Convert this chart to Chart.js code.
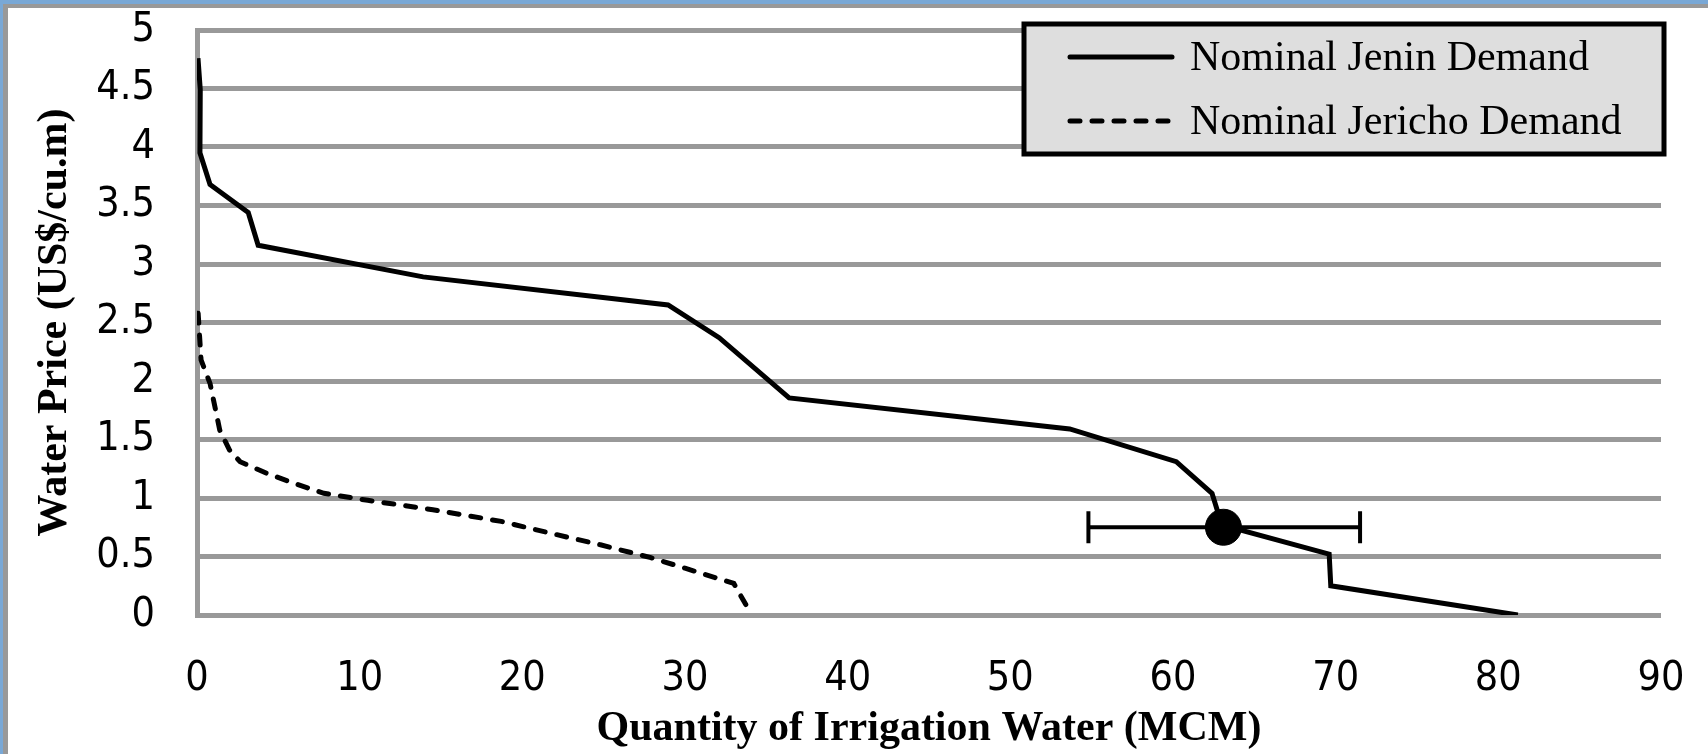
<!DOCTYPE html>
<html>
<head>
<meta charset="utf-8">
<script src="https://cdn.jsdelivr.net/npm/chart.js@4.4.1/dist/chart.umd.min.js"></script>
<style>
  html, body { margin: 0; padding: 0; background: #fff; }
  #wrap { width: 1708px; height: 754px; }
</style>
</head>
<body>
<div id="wrap"><canvas id="demand" width="1708" height="754"></canvas></div>
<script>
const seriesLabels = ['Nominal Jenin Demand', 'Nominal Jericho Demand']

// Jenin demand curve (quantity MCM, price US$/cu.m)
const jeninQty = [0.06, 0.2, 0.18, 0.8, 3.15, 3.76, 13.9, 28.96, 32.1, 36.4, 53.65, 60.2, 62.4, 63.0, 69.6, 69.7, 81.2]
const jeninPrice = [4.76, 4.49, 3.95, 3.68, 3.44, 3.16, 2.89, 2.65, 2.37, 1.855, 1.59, 1.31, 1.04, 0.77, 0.52, 0.25, 0]

// Jericho demand curve
const jerichoQty = [0.07, 0.25, 0.8, 1.4, 2.0, 2.65, 4.3, 6.3, 7.8, 10.5, 12.5, 14.5, 18.7, 21.7, 24.8, 27.9, 30, 33.0, 34.1]
const jerichoPrice = [2.58, 2.18, 1.98, 1.58, 1.41, 1.31, 1.21, 1.11, 1.04, 0.98, 0.94, 0.9, 0.8, 0.7, 0.6, 0.49, 0.4, 0.27, 0]

// observed point with range
const pointQty = 63.1
const pointPrice = 0.75
const rangeLow = 54.8
const rangeHigh = 71.5

const xTicks = [0, 10, 20, 30, 40, 50, 60, 70, 80, 90]
const yTicks = [0, 0.5, 1, 1.5, 2, 2.5, 3, 3.5, 4, 4.5, 5]

const toPoints = (xs, ys) => xs.map((x, i) => ({ x: x, y: ys[i] }))

const frame = {
  id: 'frame',
  beforeDraw(chart) {
    const { ctx, width, height } = chart
    ctx.save()
    ctx.fillStyle = '#fff'
    ctx.fillRect(0, 0, width, height)
    ctx.fillStyle = '#999'
    ctx.fillRect(3, 4, width - 3, 4)
    ctx.fillRect(3, 4, 5, height - 4)
    ctx.fillStyle = '#79a8d6'
    ctx.fillRect(0, 0, width, 4)
    ctx.fillRect(0, 0, 3, height)
    ctx.restore()
  },
}

const boxLegend = {
  id: 'boxLegend',
  afterDraw(chart) {
    const { ctx } = chart
    const items = chart.data.datasets.filter((d) => seriesLabels.includes(d.label))
    ctx.save()
    ctx.fillStyle = '#dedede'
    ctx.fillRect(1024, 24, 640, 130)
    ctx.lineWidth = 5
    ctx.strokeStyle = '#000'
    ctx.strokeRect(1024, 24, 640, 130)
    const rows = [57, 121]
    items.forEach((d, i) => {
      const y = rows[i]
      ctx.beginPath()
      ctx.lineWidth = 5
      ctx.lineCap = 'round'
      ctx.setLineDash(d.borderDash || [])
      ctx.moveTo(1070, y)
      ctx.lineTo(1172, y)
      ctx.stroke()
      ctx.setLineDash([])
      ctx.fillStyle = '#000'
      ctx.font = '42px "Liberation Serif", "Times New Roman", serif'
      ctx.textBaseline = 'middle'
      ctx.fillText(d.label, 1190, y + 2)
    })
    ctx.restore()
  },
}

const tickFont = { family: '"Liberation Sans Narrow", "DejaVu Sans Condensed", sans-serif', size: 41 }
const titleFont = { family: '"Liberation Serif", "Times New Roman", serif', size: 42, weight: 'bold', lineHeight: 1 }

new Chart(document.getElementById('demand'), {
  type: 'line',
  data: {
    datasets: [
      {
        type: 'scatter',
        label: 'point',
        data: [{ x: pointQty, y: pointPrice }],
        pointRadius: 18,
        pointBackgroundColor: '#000',
        pointBorderColor: '#000',
        order: 0,
      },
      {
        label: 'range',
        data: [{ x: rangeLow, y: pointPrice }, { x: rangeHigh, y: pointPrice }],
        borderColor: '#000',
        borderWidth: 4,
        pointStyle: 'line',
        pointRotation: 90,
        pointRadius: 16,
        pointBorderWidth: 4,
        pointBorderColor: '#000',
        order: 1,
      },
      {
        label: seriesLabels[0],
        data: toPoints(jeninQty, jeninPrice),
        borderColor: '#000',
        borderWidth: 5,
        pointRadius: 0,
        order: 2,
      },
      {
        label: seriesLabels[1],
        data: toPoints(jerichoQty, jerichoPrice),
        borderColor: '#000',
        borderWidth: 5,
        borderDash: [10, 12],
        borderCapStyle: 'round',
        pointRadius: 0,
        order: 2,
      },
    ],
  },
  options: {
    responsive: false,
    animation: false,
    devicePixelRatio: 1,
    layout: { padding: { top: 30, right: 47, left: 0, bottom: 0 } },
    elements: { line: { tension: 0, fill: false } },
    scales: {
      x: {
        type: 'linear',
        min: 0,
        max: 90,
        afterFit: (s) => {
          s.height = 139
          s.paddingLeft = 0
          s.paddingRight = 0
        },
        afterBuildTicks: (s) => { s.ticks = xTicks.map((v) => ({ value: v })) },
        grid: { display: false, drawTicks: false },
        border: { display: false },
        ticks: { color: '#000', font: tickFont, padding: 40, maxRotation: 0, callback: (v) => String(v) },
        title: {
          display: true,
          text: 'Quantity of Irrigation Water (MCM)',
          color: '#000',
          font: titleFont,
          padding: { top: 4, bottom: 4 },
        },
      },
      y: {
        type: 'linear',
        min: 0,
        max: 5,
        afterFit: (s) => {
          s.width = 197
          s.paddingTop = 0
          s.paddingBottom = 0
        },
        afterBuildTicks: (s) => { s.ticks = yTicks.map((v) => ({ value: v })) },
        grid: { color: '#999', lineWidth: 5, drawTicks: false },
        border: { display: true, color: '#999', width: 5 },
        ticks: { color: '#000', font: tickFont, padding: 42, callback: (v) => String(v) },
        title: {
          display: true,
          text: 'Water Price (US$/cu.m)',
          color: '#000',
          font: titleFont,
          padding: { top: 34, bottom: 34 },
        },
      },
    },
    plugins: {
      legend: { display: false },
      tooltip: { enabled: false },
    },
  },
  plugins: [frame, boxLegend],
})
</script>
</body>
</html>
